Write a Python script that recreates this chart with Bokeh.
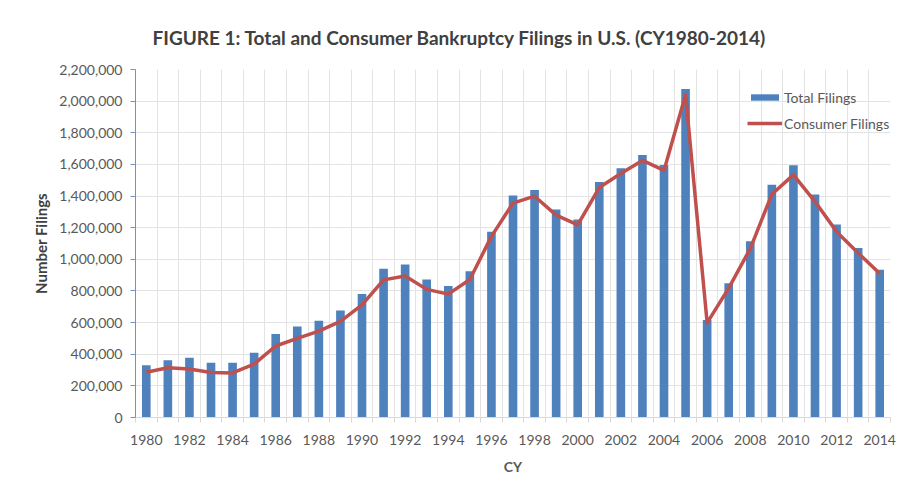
from bokeh.plotting import figure
from bokeh.models import (Range1d, FixedTicker, NumeralTickFormatter, Legend, LegendItem, Title)
from bokeh.embed import file_html
from bokeh.resources import INLINE

years = list(range(1980, 2015))
total_filings = [330000, 362000, 378000, 346000, 346000, 410000, 528000, 576000, 611000, 677000,
                 781000, 941000, 968000, 873000, 831000, 924000, 1174000, 1403000, 1439000, 1315000,
                 1252000, 1489000, 1576000, 1660000, 1596000, 2076000, 616000, 849000, 1115000, 1471000,
                 1595000, 1410000, 1220000, 1071000, 934000]
consumer_filings = [286000, 314000, 306000, 284000, 282000, 338000, 452000, 500000, 546000, 608000,
                    712000, 870000, 895000, 810000, 780000, 872000, 1145000, 1355000, 1399000, 1279000,
                    1218000, 1454000, 1543000, 1625000, 1562000, 2040000, 598000, 818000, 1068000, 1411000,
                    1534000, 1365000, 1175000, 1040000, 910000]
x_tick_years = list(range(1980, 2015, 2))
y_ticks = list(range(0, 2200001, 200000))

FONT = "Lato"
GRAY = "#595959"

p = figure(width=898, height=488, output_backend="svg", toolbar_location=None,
           x_range=Range1d(1979.5, 2014.5), y_range=Range1d(0, 2200000),
           min_border_left=135, min_border_right=8, min_border_top=69, min_border_bottom=71)
p.background_fill_color = "white"
p.border_fill_color = "white"
p.outline_line_color = None

title = Title(text="FIGURE  1: Total and Consumer Bankruptcy Filings in U.S. (CY1980-2014)",
              align="left", text_font=FONT, text_font_size="19px", text_font_style="bold",
              text_color="#404040", offset=17, standoff=42)
p.add_layout(title, "above")

bars = p.vbar(x=years, top=total_filings, width=0.4, fill_color="#4F81BD", line_color=None)
line = p.line(x=years, y=consumer_filings, line_color="#C0504D", line_width=3.5, line_join="round")

# x axis
boundaries = [y - 0.5 for y in range(1980, 2016)]
p.xaxis.ticker = FixedTicker(ticks=x_tick_years, minor_ticks=boundaries)
p.xaxis.major_tick_line_color = None
p.xaxis.minor_tick_line_color = "#D9D9D9"
p.xaxis.minor_tick_out = 5
p.xaxis.minor_tick_in = 0
p.xaxis.axis_line_color = "#D9D9D9"
p.xaxis.major_label_text_font = FONT
p.xaxis.major_label_text_font_size = "14px"
p.xaxis.major_label_text_color = GRAY
p.xaxis.major_label_standoff = 11
p.xaxis.axis_label = "CY"
p.xaxis.axis_label_text_font = FONT
p.xaxis.axis_label_text_font_size = "14px"
p.xaxis.axis_label_text_font_style = "bold"
p.xaxis.axis_label_text_color = GRAY
p.xaxis.axis_label_standoff = 10

p.xgrid.ticker = FixedTicker(ticks=boundaries)
p.xgrid.grid_line_color = "#E3E3E3"

# y axis
p.yaxis.ticker = FixedTicker(ticks=y_ticks)
p.yaxis.formatter = NumeralTickFormatter(format="0,0")
p.yaxis.axis_line_color = "#6F93C8"
p.yaxis.major_tick_line_color = "#6F93C8"
p.yaxis.major_tick_out = 5
p.yaxis.major_tick_in = 0
p.yaxis.minor_tick_line_color = None
p.yaxis.major_label_text_font = FONT
p.yaxis.major_label_text_font_size = "14px"
p.yaxis.major_label_text_color = GRAY
p.yaxis.major_label_standoff = 8
p.yaxis.axis_label = "Number Filings"
p.yaxis.axis_label_text_font = FONT
p.yaxis.axis_label_text_font_size = "15px"
p.yaxis.axis_label_text_font_style = "bold"
p.yaxis.axis_label_text_color = "#404040"
p.yaxis.axis_label_standoff = 6

p.ygrid.grid_line_color = "#E3E3E3"

legend = Legend(items=[LegendItem(label="Total Filings", renderers=[bars]),
                       LegendItem(label="Consumer Filings", renderers=[line])],
                location=(612, 284), orientation="vertical",
                glyph_width=35, glyph_height=8, label_height=20, spacing=6,
                padding=0, margin=0, label_standoff=2,
                label_text_font=FONT, label_text_font_size="14px", label_text_color=GRAY,
                border_line_color=None, background_fill_alpha=0)
p.add_layout(legend)

open("out.html", "w").write(file_html(p, INLINE))
